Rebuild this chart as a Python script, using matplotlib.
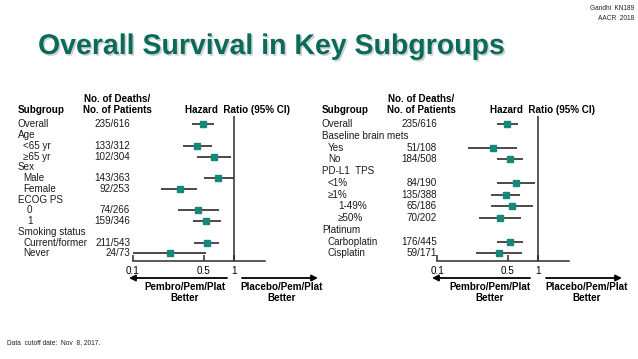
import matplotlib
matplotlib.use("Agg")
import matplotlib.pyplot as plt
import matplotlib.patheffects as pe
from matplotlib.transforms import blended_transform_factory
from matplotlib.ticker import FixedLocator, FixedFormatter, NullLocator

plt.rcParams['font.family'] = ['Liberation Sans', 'DejaVu Sans']

# ---------------- data ----------------
left_labels = ["Overall", "Age", "<65 yr", "≥65 yr", "Sex", "Male", "Female",
               "ECOG PS", "0", "1", "Smoking status", "Current/former", "Never"]
left_levels = [0, 0, 1, 1, 0, 1, 1, 0, 2, 2, 0, 1, 1]
left_counts = ["235/616", "", "133/312", "102/304", "", "143/363", "92/253",
               "", "74/266", "159/346", "", "211/543", "24/73"]
left_hr = [0.49, None, 0.43, 0.64, None, 0.70, 0.29, None, 0.44, 0.53, None, 0.54, 0.23]
left_lo = [0.38, None, 0.31, 0.43, None, 0.50, 0.19, None, 0.28, 0.39, None, 0.40, 0.10]
left_hi = [0.64, None, 0.61, 0.94, None, 0.99, 0.43, None, 0.71, 0.74, None, 0.71, 0.53]

right_labels = ["Overall", "Baseline brain mets", "Yes", "No", "PD-L1  TPS", "<1%",
                "≥1%", "1-49%", "≥50%", "Platinum", "Carboplatin", "Cisplatin"]
right_levels = [0, 0, 1, 1, 0, 1, 1, 2, 2, 0, 1, 1]
right_counts = ["235/616", "", "51/108", "184/508", "", "84/190", "135/388",
                "65/186", "70/202", "", "176/445", "59/171"]
right_hr = [0.49, None, 0.36, 0.53, None, 0.60, 0.48, 0.56, 0.42, None, 0.53, 0.41]
right_lo = [0.39, None, 0.20, 0.39, None, 0.39, 0.34, 0.34, 0.26, None, 0.39, 0.24]
right_hi = [0.64, None, 0.62, 0.71, None, 0.93, 0.66, 0.90, 0.68, None, 0.71, 0.69]

xticks = [0.1, 0.5, 1]
xtick_labels = ["0.1", "0.5", "1"]

W, H = 638, 359
fig = plt.figure(figsize=(W / 100, H / 100), dpi=100)
fig.patch.set_facecolor("white")


def fx(x):
    return x / W


def fy(y):
    return 1 - y / H


MARK = "#17877a"
LINE = "#2b2b2b"
FS = 7.1


def panel(ax_x0, ax_x1, labels, levels, counts, hr, lo, hi, ylim,
          lab_x, indents, count_x, hdr_count_x, hdr_hr_x, arrows):
    top, bot = 116, 261
    ax = fig.add_axes([fx(ax_x0), fy(bot), fx(ax_x1 - ax_x0), (bot - top) / H])
    ax.set_xscale("log")
    ax.set_xlim(0.1, 2.03)
    ax.set_ylim(*ylim)
    for s in ["top", "right", "left"]:
        ax.spines[s].set_visible(False)
    ax.spines["bottom"].set_linewidth(1.1)
    ax.spines["bottom"].set_color(LINE)
    ax.xaxis.set_major_locator(FixedLocator(xticks))
    ax.xaxis.set_major_formatter(FixedFormatter(xtick_labels))
    ax.xaxis.set_minor_locator(NullLocator())
    ax.tick_params(axis="x", direction="in", length=4, width=1.1, color=LINE,
                   labelsize=FS, pad=3.5)
    ax.set_yticks([])
    ax.patch.set_alpha(0)
    ax.axvline(1, color=LINE, lw=1.1)
    rows = list(range(len(labels)))
    for i in rows:
        if hr[i] is not None:
            ax.plot([lo[i], hi[i]], [i, i], color=LINE, lw=1.2, solid_capstyle="butt")
    ys = [i for i in rows if hr[i] is not None]
    ax.plot([hr[i] for i in ys], ys, ls="none", marker="s", ms=5.0,
            mfc=MARK, mec=MARK, zorder=5)
    tr = blended_transform_factory(fig.transFigure, ax.transData)
    for i in rows:
        ax.text(fx(lab_x + indents[levels[i]]), i, labels[i], transform=tr,
                fontsize=FS, va="center", ha="left", color="#1a1a1a")
        if counts[i]:
            ax.text(fx(count_x), i, counts[i], transform=tr, fontsize=FS,
                    va="center", ha="right", color="#1a1a1a")
    # headers
    fig.text(fx(lab_x), fy(110), "Subgroup", fontsize=FS, fontweight="bold",
             va="center", ha="left")
    fig.text(fx(hdr_count_x), fy(99), "No. of Deaths/", fontsize=FS,
             fontweight="bold", va="center", ha="center")
    fig.text(fx(hdr_count_x), fy(110), "No. of Patients", fontsize=FS,
             fontweight="bold", va="center", ha="center")
    fig.text(fx(hdr_hr_x), fy(110), "Hazard  Ratio (95% CI)", fontsize=FS,
             fontweight="bold", va="center", ha="left")
    # arrows
    (l0, l1, r0, r1, ay, lc, rc) = arrows
    for a, b in [(l1, l0), (r0, r1)]:
        fig.add_artist(matplotlib.patches.FancyArrowPatch(
            (fx(a), fy(ay)), (fx(b), fy(ay)), transform=fig.transFigure,
            arrowstyle="-|>", mutation_scale=9, lw=1.3, color="black",
            shrinkA=0, shrinkB=0))
    for cx, txt in [(lc, "Pembro/Pem/Plat"), (rc, "Placebo/Pem/Plat")]:
        fig.text(fx(cx), fy(287), txt, fontsize=FS, fontweight="bold",
                 ha="center", va="center")
        fig.text(fx(cx), fy(298), "Better", fontsize=FS, fontweight="bold",
                 ha="center", va="center")
    return ax


panel(133, 265, left_labels, left_levels, left_counts, left_hr, left_lo, left_hi,
      (12.72, -0.772), 18, [0, 5, 9], 130, 117.5, 185,
      (129, 227, 242, 318, 278, 185, 282))
panel(437.3, 568.7, right_labels, right_levels, right_counts, right_hr, right_lo,
      right_hi, (11.66, -0.708), 322, [0, 6, 16], 437, 421, 490,
      (432, 530, 546, 622, 278, 490, 587))

fig.text(fx(38), fy(47), "Overall Survival in Key Subgroups", fontsize=20.5,
         fontweight="bold", color="#0b6a5a", ha="left", va="center",
         path_effects=[pe.SimplePatchShadow(offset=(1.2, -1.2), shadow_rgbFace="#9aa8a4",
                                            alpha=0.5), pe.Normal()])
fig.text(fx(634), fy(9), "Gandhi  KN189", fontsize=4.7, ha="right", va="center",
         color="#222222")
fig.text(fx(634), fy(19), "AACR  2018", fontsize=4.7, ha="right", va="center",
         color="#222222")
fig.text(fx(7), fy(343), "Data  cutoff date:  Nov  8, 2017.", fontsize=4.8,
         ha="left", va="center", color="#222222")

fig.savefig("out.png", dpi=100, facecolor="white")
